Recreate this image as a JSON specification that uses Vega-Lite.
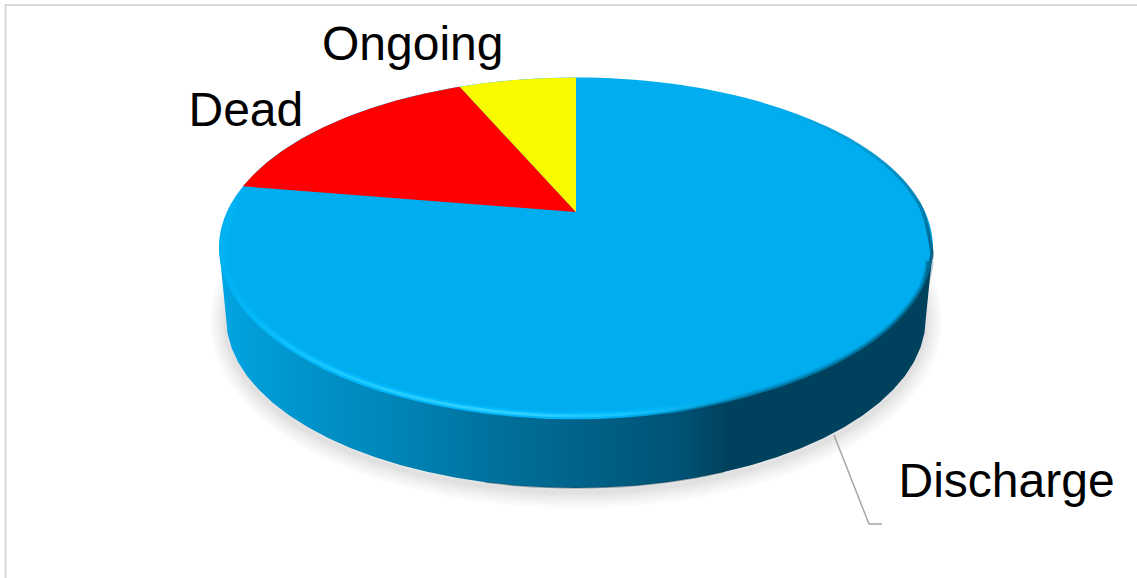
{
  "$schema": "https://vega.github.io/schema/vega-lite/v6.json",
  "autosize": "none",
  "width": 1137,
  "height": 578,
  "padding": 0,
  "background": "#ffffff",
  "config": {"view": {"stroke": null}},
  "datasets": {
    "frame": [
      {"i": 0, "x": -1.598, "y": -1.9441},
      {"i": 1, "x": -1.598, "y": 1.4265},
      {"i": 2, "x": 1.5714, "y": 1.4265}
    ],
    "shadow": [
      {"i": 0, "x": 0.98, "y": -0.4382},
      {"i": 1, "x": 0.9466, "y": -0.1794},
      {"i": 2, "x": 0.8487, "y": 0.0618},
      {"i": 3, "x": 0.693, "y": 0.2689},
      {"i": 4, "x": 0.49, "y": 0.4278},
      {"i": 5, "x": 0.2536, "y": 0.5277},
      {"i": 6, "x": 0, "y": 0.5618},
      {"i": 7, "x": -0.2536, "y": 0.5277},
      {"i": 8, "x": -0.49, "y": 0.4278},
      {"i": 9, "x": -0.693, "y": 0.2689},
      {"i": 10, "x": -0.8487, "y": 0.0618},
      {"i": 11, "x": -0.9466, "y": -0.1794},
      {"i": 12, "x": -0.98, "y": -0.4382},
      {"i": 13, "x": -0.9466, "y": -0.697},
      {"i": 14, "x": -0.8487, "y": -0.9382},
      {"i": 15, "x": -0.693, "y": -1.1453},
      {"i": 16, "x": -0.49, "y": -1.3042},
      {"i": 17, "x": -0.2536, "y": -1.4041},
      {"i": 18, "x": 0, "y": -1.4382},
      {"i": 19, "x": 0.2536, "y": -1.4041},
      {"i": 20, "x": 0.49, "y": -1.3042},
      {"i": 21, "x": 0.693, "y": -1.1453},
      {"i": 22, "x": 0.8487, "y": -0.9382},
      {"i": 23, "x": 0.9466, "y": -0.697}
    ],
    "wall": [
      {"i": 0, "x": -1, "y": 0},
      {"i": 1, "x": -0.98, "y": -0.4147},
      {"i": 2, "x": -0.9763, "y": -0.5019},
      {"i": 3, "x": -0.9651, "y": -0.5883},
      {"i": 4, "x": -0.9466, "y": -0.6735},
      {"i": 5, "x": -0.9209, "y": -0.7567},
      {"i": 6, "x": -0.8882, "y": -0.8373},
      {"i": 7, "x": -0.8487, "y": -0.9147},
      {"i": 8, "x": -0.8028, "y": -0.9883},
      {"i": 9, "x": -0.7507, "y": -1.0575},
      {"i": 10, "x": -0.693, "y": -1.1218},
      {"i": 11, "x": -0.6299, "y": -1.1807},
      {"i": 12, "x": -0.5621, "y": -1.2339},
      {"i": 13, "x": -0.49, "y": -1.2807},
      {"i": 14, "x": -0.4141, "y": -1.321},
      {"i": 15, "x": -0.3352, "y": -1.3544},
      {"i": 16, "x": -0.2536, "y": -1.3806},
      {"i": 17, "x": -0.1701, "y": -1.3995},
      {"i": 18, "x": -0.0855, "y": -1.4109},
      {"i": 19, "x": 0, "y": -1.4147},
      {"i": 20, "x": 0.0855, "y": -1.4109},
      {"i": 21, "x": 0.1701, "y": -1.3995},
      {"i": 22, "x": 0.2536, "y": -1.3806},
      {"i": 23, "x": 0.3352, "y": -1.3544},
      {"i": 24, "x": 0.4141, "y": -1.321},
      {"i": 25, "x": 0.49, "y": -1.2807},
      {"i": 26, "x": 0.5621, "y": -1.2339},
      {"i": 27, "x": 0.6299, "y": -1.1807},
      {"i": 28, "x": 0.693, "y": -1.1218},
      {"i": 29, "x": 0.7507, "y": -1.0575},
      {"i": 30, "x": 0.8028, "y": -0.9883},
      {"i": 31, "x": 0.8487, "y": -0.9147},
      {"i": 32, "x": 0.8882, "y": -0.8373},
      {"i": 33, "x": 0.9209, "y": -0.7567},
      {"i": 34, "x": 0.9466, "y": -0.6735},
      {"i": 35, "x": 0.9651, "y": -0.5883},
      {"i": 36, "x": 0.9763, "y": -0.5019},
      {"i": 37, "x": 0.98, "y": -0.4147},
      {"i": 38, "x": 1, "y": 0}
    ],
    "discharge": [
      {"i": 0, "x": 1, "y": 0},
      {"i": 1, "x": 0.9659, "y": 0.2588},
      {"i": 2, "x": 0.866, "y": 0.5},
      {"i": 3, "x": 0.7071, "y": 0.7071},
      {"i": 4, "x": 0.5, "y": 0.866},
      {"i": 5, "x": 0.2588, "y": 0.9659},
      {"i": 6, "x": 0, "y": 1},
      {"i": 7, "x": -0.2588, "y": 0.9659},
      {"i": 8, "x": -0.5, "y": 0.866},
      {"i": 9, "x": -0.7071, "y": 0.7071},
      {"i": 10, "x": -0.866, "y": 0.5},
      {"i": 11, "x": -0.9659, "y": 0.2588},
      {"i": 12, "x": -1, "y": 0},
      {"i": 13, "x": -0.9659, "y": -0.2588},
      {"i": 14, "x": -0.866, "y": -0.5},
      {"i": 15, "x": -0.7071, "y": -0.7071},
      {"i": 16, "x": -0.5, "y": -0.866},
      {"i": 17, "x": -0.2588, "y": -0.9659},
      {"i": 18, "x": 0, "y": -1},
      {"i": 19, "x": 0.2588, "y": -0.9659},
      {"i": 20, "x": 0.5, "y": -0.866},
      {"i": 21, "x": 0.7071, "y": -0.7071},
      {"i": 22, "x": 0.866, "y": -0.5},
      {"i": 23, "x": 0.9659, "y": -0.2588}
    ],
    "highlight": [
      {"i": 0, "x": -0.9562, "y": 0.2562},
      {"i": 1, "x": -0.99, "y": 0},
      {"i": 2, "x": -0.9562, "y": -0.2562},
      {"i": 3, "x": -0.8573, "y": -0.495},
      {"i": 4, "x": -0.7, "y": -0.7},
      {"i": 5, "x": -0.495, "y": -0.8573},
      {"i": 6, "x": -0.2562, "y": -0.9562},
      {"i": 7, "x": 0, "y": -0.99},
      {"i": 8, "x": 0.2562, "y": -0.9562},
      {"i": 9, "x": 0.495, "y": -0.8573}
    ],
    "shadeLower": [
      {"i": 0, "x": 0, "y": -1},
      {"i": 1, "x": 0.2588, "y": -0.9659},
      {"i": 2, "x": 0.5, "y": -0.866},
      {"i": 3, "x": 0.7071, "y": -0.7071},
      {"i": 4, "x": 0.866, "y": -0.5},
      {"i": 5, "x": 0.9659, "y": -0.2588},
      {"i": 6, "x": 0.99, "y": -0.08}
    ],
    "shadeUpper": [
      {"i": 0, "x": 0.992, "y": -0.08},
      {"i": 1, "x": 0.995, "y": 0},
      {"i": 2, "x": 0.9611, "y": 0.2575},
      {"i": 3, "x": 0.8617, "y": 0.4975},
      {"i": 4, "x": 0.7036, "y": 0.7036},
      {"i": 5, "x": 0.4975, "y": 0.8617}
    ],
    "dead": [
      {"i": 0, "x": 0, "y": 0.209},
      {"i": 1, "x": -0.933, "y": 0.36},
      {"i": 2, "x": -0.9063, "y": 0.4226},
      {"i": 3, "x": -0.866, "y": 0.5},
      {"i": 4, "x": -0.8192, "y": 0.5736},
      {"i": 5, "x": -0.766, "y": 0.6428},
      {"i": 6, "x": -0.7071, "y": 0.7071},
      {"i": 7, "x": -0.6428, "y": 0.766},
      {"i": 8, "x": -0.5736, "y": 0.8192},
      {"i": 9, "x": -0.5, "y": 0.866},
      {"i": 10, "x": -0.4226, "y": 0.9063},
      {"i": 11, "x": -0.342, "y": 0.9397},
      {"i": 12, "x": -0.3256, "y": 0.9455}
    ],
    "ongoing": [
      {"i": 0, "x": 0, "y": 0.209},
      {"i": 1, "x": -0.3256, "y": 0.9455},
      {"i": 2, "x": -0.2588, "y": 0.9659},
      {"i": 3, "x": -0.1736, "y": 0.9848},
      {"i": 4, "x": -0.0872, "y": 0.9962},
      {"i": 5, "x": 0, "y": 1}
    ],
    "leader": [
      {"i": 0, "x": 0.7227, "y": -1.1029},
      {"i": 1, "x": 0.8207, "y": -1.6265},
      {"i": 2, "x": 0.8571, "y": -1.6265}
    ],
    "labels": [
      {"i": 0, "x": -0.7115, "y": 1.1029, "label": "Ongoing"},
      {"i": 1, "x": -1.0854, "y": 0.7147, "label": "Dead"},
      {"i": 2, "x": 0.9034, "y": -1.4676, "label": "Discharge"}
    ]
  },
  "encoding": {
    "x": {"field": "x", "type": "quantitative", "axis": null, "scale": {"domain": [-1.6134, 1.5714], "nice": false, "zero": false}},
    "y": {"field": "y", "type": "quantitative", "axis": null, "scale": {"domain": [-1.9441, 1.4559], "nice": false, "zero": false}},
    "order": {"field": "i", "type": "quantitative"}
  },
  "layer": [
    {"data": {"name": "frame"}, "mark": {"type": "line", "stroke": "#d9d9d9", "strokeWidth": 2}},
    {"data": {"name": "shadow"}, "mark": {"type": "line", "interpolate": "cardinal-closed", "stroke": "#000000", "strokeOpacity": 0.02, "strokeWidth": 32}},
    {"data": {"name": "shadow"}, "mark": {"type": "line", "interpolate": "cardinal-closed", "stroke": "#000000", "strokeOpacity": 0.02, "strokeWidth": 26}},
    {"data": {"name": "shadow"}, "mark": {"type": "line", "interpolate": "cardinal-closed", "stroke": "#000000", "strokeOpacity": 0.02, "strokeWidth": 20}},
    {"data": {"name": "shadow"}, "mark": {"type": "line", "interpolate": "cardinal-closed", "stroke": "#000000", "strokeOpacity": 0.02, "strokeWidth": 14}},
    {"data": {"name": "shadow"}, "mark": {"type": "line", "interpolate": "cardinal-closed", "stroke": "#000000", "strokeOpacity": 0.02, "strokeWidth": 9}},
    {"data": {"name": "shadow"}, "mark": {"type": "line", "interpolate": "cardinal-closed", "stroke": "#000000", "strokeOpacity": 0.02, "strokeWidth": 5}},
    {
      "data": {"name": "wall"},
      "mark": {
        "type": "line",
        "interpolate": "linear-closed",
        "strokeWidth": 0,
        "fill": {
          "gradient": "linear", "x1": 0, "x2": 1, "y1": 0, "y2": 0,
          "stops": [
            {"offset": 0, "color": "#00a6e4"},
            {"offset": 0.03, "color": "#00a0dc"},
            {"offset": 0.115, "color": "#0094cc"},
            {"offset": 0.255, "color": "#0084b6"},
            {"offset": 0.394, "color": "#00709b"},
            {"offset": 0.535, "color": "#005f85"},
            {"offset": 0.65, "color": "#005274"},
            {"offset": 0.71, "color": "#00425e"},
            {"offset": 1, "color": "#00425e"}
          ]
        }
      }
    },
    {
      "data": {"name": "wall"},
      "transform": [{"filter": "datum.i >= 16 && datum.i <= 24"}],
      "mark": {"type": "line", "interpolate": "cardinal", "stroke": "#002f45", "strokeOpacity": 0.35, "strokeWidth": 1.5}
    },
    {"data": {"name": "discharge"}, "mark": {"type": "line", "interpolate": "cardinal-closed", "fill": "#00aeef", "strokeWidth": 0}},
    {
      "data": {"name": "shadeLower"},
      "mark": {"type": "line", "interpolate": "cardinal", "strokeWidth": 8, "strokeOpacity": 0.3,
        "stroke": {"gradient": "linear", "x1": 0, "x2": 1, "y1": 0, "y2": 0, "stops": [
          {"offset": 0, "color": "rgba(0,66,94,0)"},
          {"offset": 0.4, "color": "rgba(0,66,94,0.6)"},
          {"offset": 1, "color": "rgba(0,66,94,1)"}
        ]}}
    },
    {
      "data": {"name": "shadeLower"},
      "mark": {"type": "line", "interpolate": "cardinal", "strokeWidth": 4, "strokeOpacity": 0.5,
        "stroke": {"gradient": "linear", "x1": 0, "x2": 1, "y1": 0, "y2": 0, "stops": [
          {"offset": 0, "color": "rgba(0,66,94,0)"},
          {"offset": 0.4, "color": "rgba(0,66,94,0.6)"},
          {"offset": 1, "color": "rgba(0,66,94,1)"}
        ]}}
    },
    {
      "data": {"name": "shadeUpper"},
      "mark": {"type": "line", "interpolate": "cardinal", "strokeWidth": 3.5,
        "stroke": {"gradient": "linear", "x1": 0, "x2": 0, "y1": 1, "y2": 0, "stops": [
          {"offset": 0, "color": "rgba(0,66,94,0.7)"},
          {"offset": 0.5, "color": "rgba(0,66,94,0.3)"},
          {"offset": 1, "color": "rgba(0,66,94,0)"}
        ]}}
    },
    {
      "data": {"name": "highlight"},
      "mark": {"type": "line", "interpolate": "cardinal", "strokeWidth": 7,
        "stroke": {"gradient": "linear", "x1": 0, "x2": 1, "y1": 0, "y2": 0, "stops": [
          {"offset": 0, "color": "rgba(0,186,250,0.3)"},
          {"offset": 0.2, "color": "rgba(0,186,255,1)"},
          {"offset": 0.75, "color": "rgba(0,186,255,0.9)"},
          {"offset": 1, "color": "rgba(0,186,255,0)"}
        ]}}
    },
    {
      "data": {"name": "highlight"},
      "mark": {"type": "line", "interpolate": "cardinal", "strokeWidth": 3,
        "stroke": {"gradient": "linear", "x1": 0, "x2": 1, "y1": 0, "y2": 0, "stops": [
          {"offset": 0, "color": "rgba(30,200,255,0)"},
          {"offset": 0.25, "color": "rgba(35,204,255,0.95)"},
          {"offset": 0.55, "color": "rgba(50,208,255,1)"},
          {"offset": 1, "color": "rgba(30,200,255,0)"}
        ]}}
    },
    {"data": {"name": "dead"}, "mark": {"type": "line", "interpolate": "linear-closed", "fill": "#ff0000", "strokeWidth": 0}},
    {"data": {"name": "ongoing"}, "mark": {"type": "line", "interpolate": "linear-closed", "fill": "#fbfb00", "strokeWidth": 0}},
    {"data": {"name": "leader"}, "mark": {"type": "line", "stroke": "#a6a6a6", "strokeWidth": 1.5}},
    {
      "data": {"name": "labels"},
      "mark": {"type": "text", "align": "left", "baseline": "alphabetic", "font": "Liberation Sans", "fontSize": 48, "fill": "#000000"},
      "encoding": {"text": {"field": "label", "type": "nominal"}}
    }
  ]
}
